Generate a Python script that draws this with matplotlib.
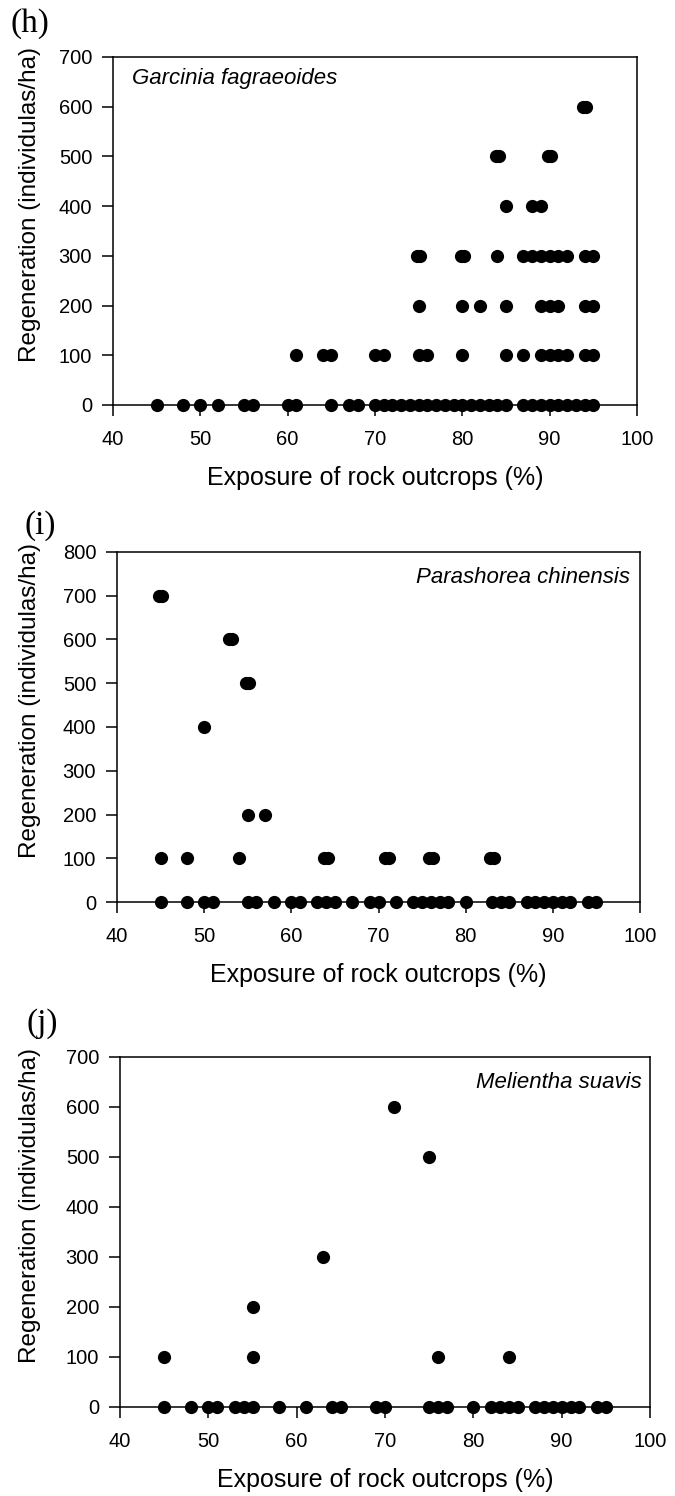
import matplotlib
matplotlib.use("Agg")
import matplotlib.pyplot as plt

plt.rcParams['font.family'] = ['Liberation Sans', 'DejaVu Sans']

# regeneration (individuals/ha) -> exposure of rock outcrops (%) for each species
# doubled values (e.g. 74.8, 75.2) are overlapping points drawn as a bigger blob
garcinia_rows = {
    0: [45, 48, 50, 52, 55, 56, 60, 61, 65, 67, 68,
        70, 71, 72, 73, 74, 75, 76, 77, 78, 79, 80, 81, 82, 83, 84, 85,
        87, 88, 89, 90, 91, 92, 93, 94, 95],
    100: [61, 64, 65, 70, 71, 75, 76, 80, 85, 87, 89, 90, 91, 92, 94, 95],
    200: [75, 80, 82, 85, 89, 90, 91, 94, 95],
    300: [74.8, 75.2, 79.8, 80.2, 84, 87, 88, 89, 90, 91, 92, 94, 95],
    400: [85, 88, 89],
    500: [83.8, 84.2, 89.8, 90.2],
    600: [93.8, 94.2],
}
parashorea_rows = {
    0: [45, 48, 50, 51, 55, 56, 58, 60, 61, 63, 64, 65, 67, 69, 70, 72,
        74, 75, 76, 77, 78, 80, 83, 84, 85, 87, 88, 89, 90, 91, 92, 94, 95],
    100: [45, 48, 54, 63.8, 64.2, 70.8, 71.2, 75.8, 76.2, 82.8, 83.2],
    200: [55, 57],
    400: [50],
    500: [54.8, 55.2],
    600: [52.8, 53.2],
    700: [44.8, 45.2],
}
melientha_rows = {
    0: [45, 48, 50, 51, 53, 54, 55, 58, 61, 64, 65, 69, 70, 75, 76, 77,
        80, 82, 83, 84, 85, 87, 88, 89, 90, 91, 92, 94, 95],
    100: [45, 55, 76, 84],
    200: [55],
    300: [63],
    500: [75],
    600: [71],
}

x_ticks = [40, 50, 60, 70, 80, 90, 100]
x_label = "Exposure of rock outcrops (%)"
y_label = "Regeneration (individulas/ha)"

W, H = 675, 1496
fig = plt.figure(figsize=(W / 100, H / 100), dpi=100)


def px_axes(left, top, right, bottom):
    return fig.add_axes([left / W, 1 - bottom / H, (right - left) / W, (bottom - top) / H])


def draw_panel(ax, rows, ymax, species, sx, sy, ha, left, width):
    xs, ys = [], []
    for yv, xv in rows.items():
        xs += xv
        ys += [yv] * len(xv)
    ax.plot(xs, ys, 'o', color='black', markersize=9.5, markeredgewidth=0,
            clip_on=False, zorder=3)
    ax.set_xlim(40, 100)
    ax.set_ylim(0, ymax)
    ax.set_xticks(x_ticks)
    ax.set_yticks(range(0, ymax + 1, 100))
    ax.tick_params(direction='out', length=8, width=1.1, labelsize=14.5,
                   top=False, right=False, colors='black')
    ax.tick_params(axis='x', pad=10)
    ax.tick_params(axis='y', pad=7)
    for s in ax.spines.values():
        s.set_linewidth(1.1)
    ax.set_xlabel(x_label, fontsize=18, labelpad=12)
    ax.set_ylabel(y_label, fontsize=17.5)
    # label right edge sits ~41 px from the figure edge
    ax.yaxis.set_label_coords((41 - left) / width, 0.575)
    ax.text(sx, sy, species, transform=ax.transAxes, fontsize=16,
            style='italic', ha=ha, va='center')


ax_h = px_axes(113, 57, 637, 405)
draw_panel(ax_h, garcinia_rows, 700, "Garcinia fagraeoides", 0.036, 0.937, 'left', 113, 524)

ax_i = px_axes(117, 552, 640, 902)
draw_panel(ax_i, parashorea_rows, 800, "Parashorea chinensis", 0.981, 0.926, 'right', 117, 523)

ax_j = px_axes(120, 1057, 650, 1407)
draw_panel(ax_j, melientha_rows, 700, "Melientha suavis", 0.985, 0.926, 'right', 120, 530)

# panel letters
for lbl, x, y in [("(h)", 10, 24), ("(i)", 25, 526), ("(j)", 26, 1024)]:
    fig.text(x / W, 1 - y / H, lbl, fontsize=24, family='Liberation Serif',
             ha='left', va='center')

fig.savefig("out.png", dpi=100)
